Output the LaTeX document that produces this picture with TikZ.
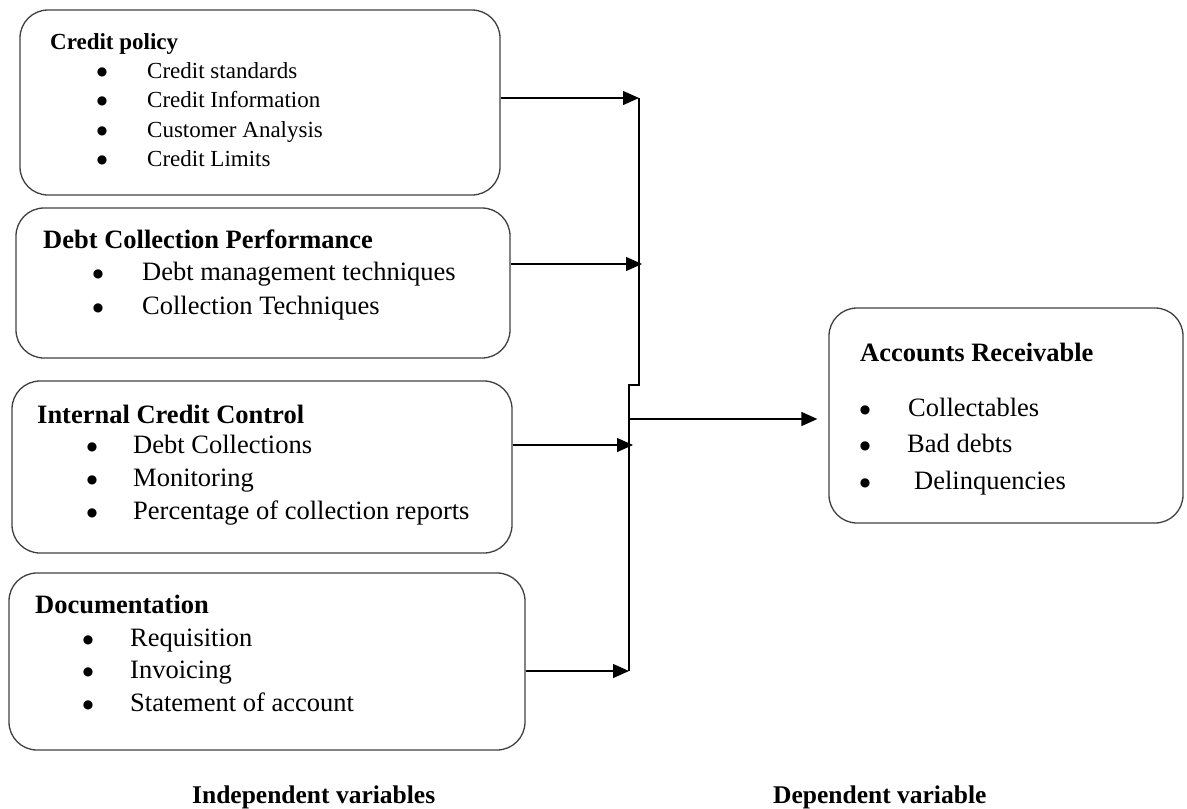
\documentclass[tikz,border=0pt]{standalone}
\usepackage{fontspec}
\setmainfont{Liberation Serif}
\newfontfamily\dotfont{DejaVu Sans}
\usetikzlibrary{arrows.meta}
\newcommand\smallsz{\fontsize{23}{28}\selectfont}
\newcommand\bigsz{\fontsize{26.5}{32}\selectfont}
\tikzset{
  box/.style={draw=black!75,line width=1.3pt,rounded corners=28pt,inner sep=0pt},
  head/.style={anchor=mid west,inner sep=0pt,font=\bfseries},
  item/.style={anchor=mid west,inner sep=0pt},
  bul/.style={anchor=center,inner sep=0pt,font=\dotfont\fontsize{12}{12}\selectfont},
  arr/.style={-{Triangle[length=16pt,width=14pt]},line width=1.3pt},
  bus/.style={line width=1.3pt}
}
\begin{document}
\begin{tikzpicture}[x=1pt,y=-1pt]
\useasboundingbox (0,0) rectangle (1187,809);
% boxes
\node[box,minimum width=480pt,minimum height=185pt] (cp) at (260,102.5) {};
\node[box,minimum width=494pt,minimum height=150pt] (dcp) at (263,283) {};
\node[box,minimum width=500pt,minimum height=172pt] (icc) at (262,467) {};
\node[box,minimum width=516pt,minimum height=177pt] (doc) at (267,661.5) {};
\node[box,minimum width=354pt,minimum height=215pt] (ar) at (1006,415.5) {};
% credit policy
\node[head,font=\smallsz\bfseries] (cp-h) at (50,47) {Credit policy};
\foreach \txt [count=\i] in {Credit standards,Credit Information,Customer Analysis,Credit Limits}{
  \node[bul] (cp-b\i) at (102,{72+29.5*(\i-1)}) {●};
  \node[item,font=\smallsz] (cp-\i) at (147,{76+29.5*(\i-1)}) {\txt};
}
% debt collection
\node[head,font=\bigsz\bfseries] (dcp-h) at (43,246) {Debt Collection Performance};
\foreach \txt [count=\i] in {Debt management techniques,Collection Techniques}{
  \node[bul] (dcp-b\i) at (98,{274+34*(\i-1)}) {●};
  \node[item,font=\bigsz] (dcp-\i) at (142,{278+34*(\i-1)}) {\txt};
}
% internal credit control
\node[head,font=\bigsz\bfseries] (icc-h) at (37,421) {Internal Credit Control};
\foreach \txt [count=\i] in {Debt Collections,Monitoring,Percentage of collection reports}{
  \node[bul] (icc-b\i) at (92,{447+33*(\i-1)}) {●};
  \node[item,font=\bigsz] (icc-\i) at (133,{451+33*(\i-1)}) {\txt};
}
% documentation
\node[head,font=\bigsz\bfseries] (doc-h) at (35,611) {Documentation};
\foreach \txt [count=\i] in {Requisition,Invoicing,Statement of account}{
  \node[bul] (doc-b\i) at (88,{640+32.5*(\i-1)}) {●};
  \node[item,font=\bigsz] (doc-\i) at (130,{644+32.5*(\i-1)}) {\txt};
}
% accounts receivable
\node[head,font=\bigsz\bfseries] (ar-h) at (860,359) {Accounts Receivable};
\foreach \txt/\tx [count=\i] in {Collectables/908,Bad debts/907,Delinquencies/914}{
  \node[bul] (ar-b\i) at (865,{410+36.5*(\i-1)}) {●};
  \node[item,font=\bigsz] (ar-\i) at (\tx,{414+36.5*(\i-1)}) {\txt};
}
% connectors
\coordinate (j1) at (639,98);
\coordinate (j2) at (642,264);
\coordinate (j3) at (633,445);
\coordinate (j4) at (629,671);
\coordinate (kink) at (639,385);
\coordinate (out) at (629,419);
\draw[bus] (j1) -- (kink) -- (kink -| j4) -- (j4);
\draw[arr] (cp.east |- j1) -- (j1);
\draw[arr] (dcp.east |- j2) -- (j2);
\draw[arr] (icc.east |- j3) -- (j3);
\draw[arr] (doc.east |- j4) -- (j4);
\draw[arr,shorten >=11pt] (out) -- (ar.west |- out);
% captions
\node[head,font=\fontsize{25.5}{30}\selectfont\bfseries] (indep) at (192,801) {Independent variables};
\node[head,font=\fontsize{25.5}{30}\selectfont\bfseries] (dep) at (773,801) {Dependent variable};
\end{tikzpicture}
\end{document}
